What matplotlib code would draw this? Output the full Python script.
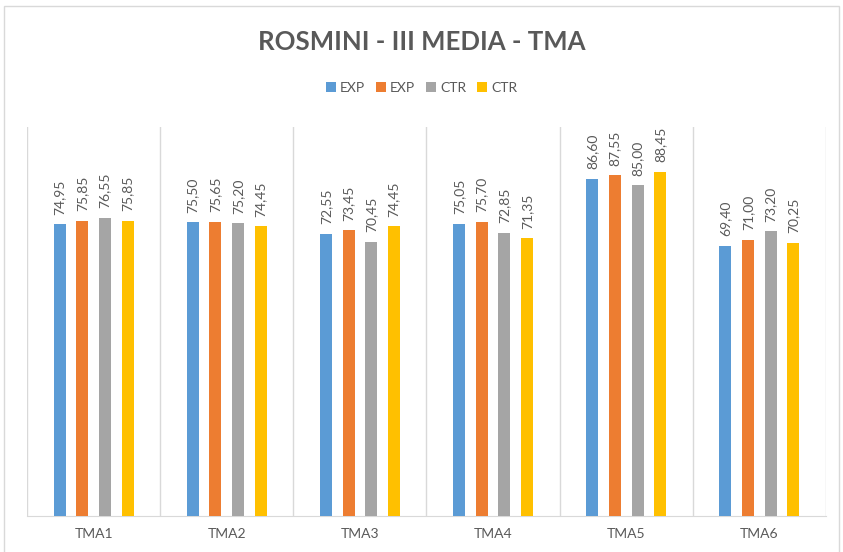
import numpy as np
import matplotlib

matplotlib.use("Agg")
import matplotlib.pyplot as plt
from matplotlib.patches import Rectangle

plt.rcParams["font.family"] = ["Lato", "DejaVu Sans"]

categories = ["TMA1", "TMA2", "TMA3", "TMA4", "TMA5", "TMA6"]
series_names = ["EXP", "EXP", "CTR", "CTR"]
exp_1 = [74.95, 75.50, 72.55, 75.05, 86.60, 69.40]
exp_2 = [75.85, 75.65, 73.45, 75.70, 87.55, 71.00]
ctr_1 = [76.55, 75.20, 70.45, 72.85, 85.00, 73.20]
ctr_2 = [75.85, 74.45, 74.45, 71.35, 88.45, 70.25]
colors = ["#5B9BD5", "#ED7D31", "#A5A5A5", "#FFC000"]

text_col = "#595959"
grid_col = "#D9D9D9"

fig = plt.figure(figsize=(8.43, 5.52), dpi=100)
fig.patches.append(Rectangle((0.005, -0.01), 0.99, 1.0, transform=fig.transFigure,
                             fill=False, edgecolor=grid_col, linewidth=1))
ax = fig.add_axes([27 / 843, 1 - 516 / 552, (826 - 27) / 843, (516 - 127) / 552])

x = np.arange(len(categories))
width = 0.09
step = 0.17
all_series = [exp_1, exp_2, ctr_1, ctr_2]
for i, (vals, name, c) in enumerate(zip(all_series, series_names, colors)):
    pos = x + (i - 1.5) * step
    ax.bar(pos, vals, width=width, color=c, label=name, zorder=3)
    for px, v in zip(pos, vals):
        ax.annotate(f"{v:.2f}".replace(".", ","), (px, v), xytext=(0, 7),
                    textcoords="offset points", rotation=90, ha="center", va="bottom",
                    fontsize=10, color=text_col)

ax.set_xlim(-0.5, len(categories) - 0.5)
ax.set_ylim(0, 100)
ax.set_yticks([])
for b in np.arange(-0.5, len(categories), 1.0):
    ax.axvline(b, color=grid_col, linewidth=1, zorder=1)
ax.set_xticks(x)
ax.set_xticklabels(categories, fontsize=10, color=text_col)
ax.tick_params(axis="x", length=0, pad=9)
for s in ["top", "left", "right"]:
    ax.spines[s].set_visible(False)
ax.spines["bottom"].set_color(grid_col)

fig.text(0.5, 1 - 42 / 552, "ROSMINI - III MEDIA - TMA", ha="center", va="center",
         fontsize=18.5, fontweight="bold", color=text_col)
fig.legend(loc="center", bbox_to_anchor=(0.5, 1 - 88 / 552), ncol=4, frameon=False,
           fontsize=10, labelcolor=text_col, handlelength=0.7, handleheight=0.7,
           handletextpad=0.3, columnspacing=0.8)

fig.savefig("out.png", dpi=100)
